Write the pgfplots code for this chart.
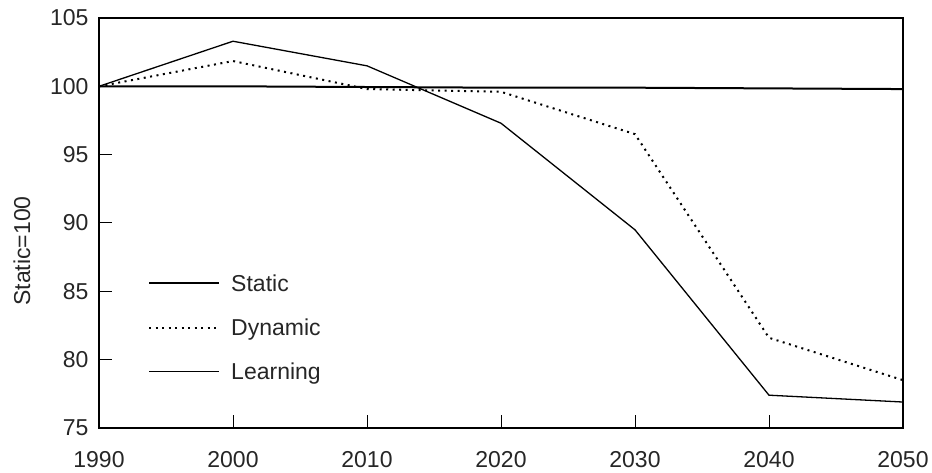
\documentclass[border=0pt]{standalone}
\usepackage{fontspec}
\setmainfont{Liberation Sans}
\usepackage{pgfplots}
\pgfplotsset{compat=1.18}
\begin{document}
\begin{tikzpicture}
\begin{axis}[
    scale only axis,
    width=804pt, height=410pt,
    xmin=1990, xmax=2050, ymin=75, ymax=105,
    xtick={1990,2000,...,2050}, ytick={75,80,...,105},
    /pgf/number format/assume math mode=true,
    /pgf/number format/1000 sep={},
    tick pos=left, tick align=inside,
    major tick length=13pt,
    every tick/.style={black, line width=1pt},
    axis line style={line width=1.1pt},
    tick label style={font=\fontsize{23}{27}\selectfont, text=black!85},
    xticklabel style={yshift=-20pt},
    yticklabel style={xshift=-7pt},
    ylabel={Static=100},
    every axis y label/.style={at={(axis description cs:-0.0958,0.432)}, rotate=90, anchor=center, font=\fontsize{23}{27}\selectfont, text=black!85},
    legend style={draw=none, fill=none, at={(axis description cs:0.061,0.38)}, anchor=north west,
        font=\fontsize{23}{27}\selectfont, text=black!85, row sep=22pt, column sep=9pt, inner sep=0pt},
    legend cell align=left,
    legend image code/.code={\draw[#1] (0pt,0pt) -- (70pt,0pt);},
]
\addplot[black, line width=2pt] coordinates {
    (1990,100) (2000,100) (2010,99.95) (2020,99.9) (2030,99.9) (2040,99.85) (2050,99.8)
};
\addlegendentry{Static}
\addplot[black, line width=2pt, dash pattern=on 2pt off 4.5pt] coordinates {
    (1990,100) (2000,101.85) (2010,99.8) (2020,99.6) (2030,96.5) (2040,81.6) (2050,78.5)
};
\addlegendentry{Dynamic}
\addplot[black, line width=1.3pt] coordinates {
    (1990,100) (2000,103.3) (2010,101.5) (2020,97.3) (2030,89.5) (2040,77.4) (2050,76.9)
};
\addlegendentry{Learning}
\end{axis}
\pgfresetboundingbox
\path (current axis.south west) ++(-99pt,-45pt) rectangle ++(932pt,473pt);
\end{tikzpicture}
\end{document}
